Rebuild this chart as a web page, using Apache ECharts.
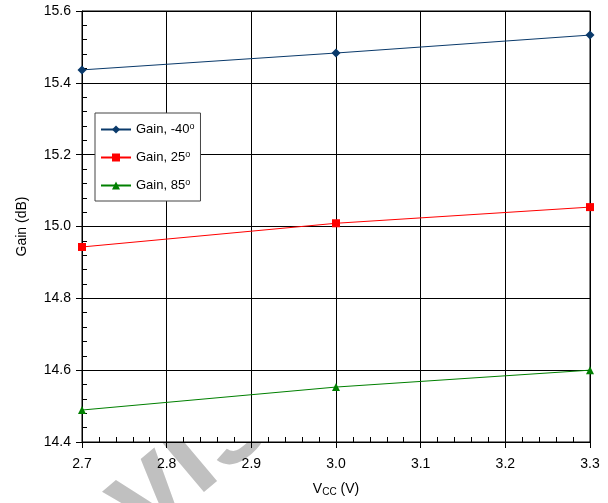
<!DOCTYPE html>
<html>
<head>
<meta charset="utf-8">
<script src="https://cdn.jsdelivr.net/npm/echarts@6/dist/echarts.min.js"></script>
<style>
  html, body { margin: 0; padding: 0; background: #fff; }
  #chart { width: 608px; height: 503px; }
</style>
</head>
<body>
<div id="chart"></div>
<script>
  // data
  var vcc = [2.7, 3.0, 3.3]
  var gainCold = [15.436, 15.483, 15.533]
  var gainRoom = [14.943, 15.009, 15.054]
  var gainHot = [14.489, 14.553, 14.600]
  var seriesNames = ['Gain, -40', 'Gain, 25', 'Gain, 85']
  var colors = ['#0a3a6b', '#ff0000', '#008000']
  var symbols = ['diamond', 'rect', 'triangle']

  function pairs (ys) {
    return vcc.map(function (x, i) { return [x, ys[i]] })
  }

  var font = 'Liberation Sans, Arial, sans-serif'
  var chart = echarts.init(document.getElementById('chart'))

  var series = [gainCold, gainRoom, gainHot].map(function (ys, i) {
    return {
      name: seriesNames[i],
      type: 'line',
      xAxisIndex: 0,
      yAxisIndex: 0,
      data: pairs(ys),
      symbol: symbols[i],
      symbolSize: i === 0 ? 9 : 8,
      lineStyle: { color: colors[i], width: 1 },
      itemStyle: { color: colors[i] },
      emphasis: { disabled: true },
      z: 5
    }
  })

  var option = {
    animation: false,
    color: colors,
    grid: {
      left: 82, right: 18, top: 11, bottom: 61,
      show: true, backgroundColor: '#fff', borderColor: '#000', borderWidth: 1
    },
    legend: {
      orient: 'vertical',
      left: 95,
      top: 113,
      padding: [9, 6, 9, 5],
      itemGap: 14,
      itemWidth: 30,
      itemHeight: 10,
      backgroundColor: '#fff',
      borderColor: '#444',
      borderWidth: 1,
      data: seriesNames,
      formatter: function (name) {
        return '{t|' + name + '}{s|o}'
      },
      textStyle: {
        fontFamily: font,
        fontSize: 13,
        color: '#000',
        rich: {
          t: { fontFamily: font, fontSize: 13, color: '#000' },
          s: { fontFamily: font, fontSize: 9, color: '#000', verticalAlign: 'top', padding: [0, 0, 6, 0] }
        }
      }
    },
    xAxis: [{
      type: 'value',
      min: 2.7,
      max: 3.3,
      interval: 0.1,
      name: '{v|V}{s|CC}{v| (V)}',
      nameLocation: 'middle',
      nameGap: 39,
      nameTextStyle: {
        rich: {
          v: { fontFamily: font, fontSize: 14, color: '#000' },
          s: { fontFamily: font, fontSize: 10, color: '#000', verticalAlign: 'bottom', padding: [6, 0, 0, 0] }
        }
      },
      axisLine: { lineStyle: { color: '#000', width: 1 } },
      axisTick: { show: true, length: 6, lineStyle: { color: '#000' } },
      axisLabel: {
        fontFamily: font, fontSize: 14, color: '#000', margin: 15,
        formatter: function (v) { return v.toFixed(1) }
      },
      splitLine: { show: true, lineStyle: { color: '#000', width: 1 } }
    }, {
      type: 'value',
      gridIndex: 0,
      position: 'bottom',
      min: 2.7,
      max: 3.3,
      interval: 0.1,
      axisLine: { show: false },
      axisTick: { show: true, inside: true, length: 0 },
      minorTick: { show: true, splitNumber: 5, length: 5, lineStyle: { color: '#000' } },
      axisLabel: { show: false },
      splitLine: { show: false }
    }],
    yAxis: [{
      type: 'value',
      min: 14.4,
      max: 15.6,
      interval: 0.2,
      name: 'Gain (dB)',
      nameLocation: 'middle',
      nameGap: 53,
      nameTextStyle: { fontFamily: font, fontSize: 14, color: '#000' },
      axisLine: { show: true, lineStyle: { color: '#000', width: 1 } },
      axisTick: { show: true, length: 6, lineStyle: { color: '#000' } },
      axisLabel: {
        fontFamily: font, fontSize: 14, color: '#000', margin: 11,
        formatter: function (v) { return v.toFixed(1) }
      },
      splitLine: { show: true, lineStyle: { color: '#000', width: 1 } }
    }, {
      type: 'value',
      gridIndex: 0,
      position: 'left',
      min: 14.4,
      max: 15.6,
      interval: 0.2,
      axisLine: { show: false },
      axisTick: { show: true, inside: true, length: 0 },
      minorTick: { show: true, splitNumber: 5, length: 5, lineStyle: { color: '#000' } },
      axisLabel: { show: false },
      splitLine: { show: false }
    }],
    // page watermark, hidden behind the white plot area
    graphic: [{
      type: 'text',
      x: 40,
      y: 667,
      rotation: 0.7,
      z: -10,
      silent: true,
      style: {
        text: 'Revision',
        font: 'bold 125px Liberation Sans, Arial, sans-serif',
        fill: '#c0c0c0',
        verticalAlign: 'bottom'
      }
    }],
    series: series
  }
  chart.setOption(option)
</script>
</body>
</html>
